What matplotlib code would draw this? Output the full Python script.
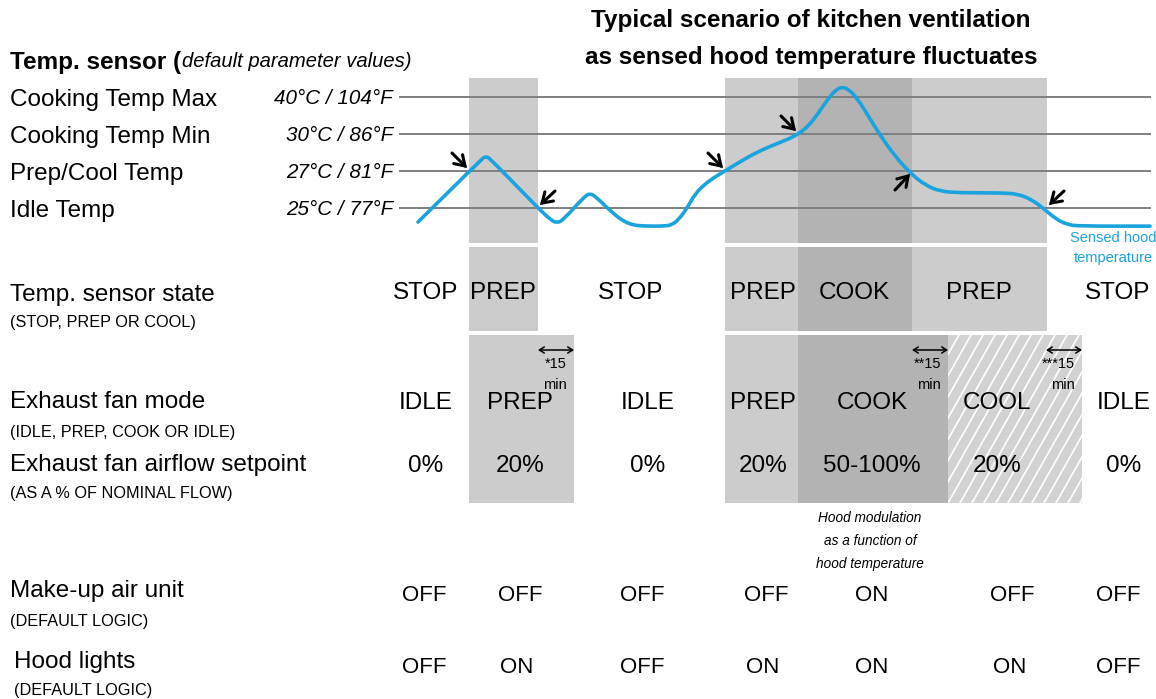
import numpy as np
import matplotlib
matplotlib.use('Agg')
import matplotlib.pyplot as plt
from matplotlib.patches import Rectangle, PathPatch
from matplotlib.path import Path

plt.rcParams['font.family'] = ['Liberation Sans', 'DejaVu Sans']

# ---- data -------------------------------------------------------------
title = ['Typical scenario of kitchen ventilation',
         'as sensed hood temperature fluctuates']

# temperature setpoints, drawn as equally spaced levels 0..3
level_names = ['Idle Temp', 'Prep/Cool Temp', 'Cooking Temp Min', 'Cooking Temp Max']
level_vals = ['25°C / 77°F', '27°C / 81°F', '30°C / 86°F', '40°C / 104°F']

# sensed hood temperature (time in diagram units, value in setpoint levels)
t_curve = [418, 480, 486, 492, 538, 551, 557, 563, 584, 590, 596, 612, 622, 632,
           645, 665, 672, 678, 686, 695, 705, 715, 725, 740, 757, 775, 790, 798,
           808, 818, 828, 836, 842, 848, 857, 868, 880, 895, 910, 925, 940, 960,
           1000, 1018, 1032, 1043, 1055, 1067, 1080, 1150]
temp_curve = [-0.38, 1.28, 1.41, 1.28, 0.0, -0.33, -0.40, -0.33, 0.30, 0.40,
              0.30, -0.12, -0.33, -0.46, -0.49, -0.49, -0.45, -0.33, -0.05, 0.38,
              0.65, 0.84, 1.0, 1.25, 1.51, 1.72, 1.88, 2.0, 2.2, 2.55, 2.95, 3.2,
              3.27, 3.22, 2.97, 2.5, 1.97, 1.4, 0.95, 0.62, 0.45, 0.41, 0.41, 0.38,
              0.22, 0.0, -0.28, -0.45, -0.49, -0.49]

# threshold crossings marked with arrows: time, level, direction
cross_t = [469, 538, 725, 798, 910, 1047]
cross_lvl = [1, 0, 1, 2, 1, 0]
cross_dir = ['se', 'sw', 'se', 'se', 'ne', 'sw']

# sensor state bands (start, end, shade)
state_start = [469, 725, 798, 912]
state_end = [538, 798, 912, 1047]
state_shade = ['light', 'light', 'dark', 'light']

# exhaust fan mode bands (delayed by 15 min)
fan_start = [469, 725, 798, 948]
fan_end = [574, 798, 948, 1082]
fan_shade = ['light', 'light', 'dark', 'hatch']
delay_end = [574, 948, 1082]
delay_lbl = ['*15', '**15', '***15']

state_x = [426, 503, 631, 763, 854, 979, 1118]
state_lbl = ['STOP', 'PREP', 'STOP', 'PREP', 'COOK', 'PREP', 'STOP']
fan_x = [426, 520, 648, 763, 872, 997, 1124]
fan_mode = ['IDLE', 'PREP', 'IDLE', 'PREP', 'COOK', 'COOL', 'IDLE']
airflow = ['0%', '20%', '0%', '20%', '50-100%', '20%', '0%']
mua_x = [424, 520, 642, 766, 872, 1012, 1118]
mua = ['OFF', 'OFF', 'OFF', 'OFF', 'ON', 'OFF', 'OFF']
light_x = [424, 517, 642, 763, 872, 1010, 1118]
lights = ['OFF', 'ON', 'OFF', 'ON', 'ON', 'ON', 'OFF']

row_labels = [('Temp. sensor state', '(STOP, PREP OR COOL)', 292, 321, 10),
              ('Exhaust fan mode', '(IDLE, PREP, COOK OR IDLE)', 399, 431, 10),
              ('Exhaust fan airflow setpoint', '(AS A % OF NOMINAL FLOW)', 462, 492, 10),
              ('Make-up air unit', '(DEFAULT LOGIC)', 588, 620, 10),
              ('Hood lights', '(DEFAULT LOGIC)', 659, 689, 14)]

# ---- drawing ----------------------------------------------------------
LIGHT = '#cccccc'
DARK = '#b3b3b3'
BLUE = '#1aa3dc'
PX = 100 / 72
BIG = 17.5

fig = plt.figure(figsize=(11.56, 6.99), dpi=100)
ax = fig.add_axes([0, 0, 1, 1])
ax.set_xlim(0, 1156)
ax.set_ylim(699, 0)
ax.axis('off')


def lvl_y(v):
    return 208 - 37 * np.asarray(v, dtype=float)


def txt(x, yc, s, size, ha='left', **kw):
    return ax.text(x, yc + 0.36 * size * PX, s, fontsize=size, ha=ha,
                   va='baseline', **kw)


shade_col = {'light': LIGHT, 'dark': DARK, 'hatch': '#d2d2d2'}

# bands
for a, b, s in zip(state_start, state_end, state_shade):
    ax.add_patch(Rectangle((a, 78), b - a, 165, color=shade_col[s], lw=0, zorder=1))
    ax.add_patch(Rectangle((a, 247), b - a, 84, color=shade_col[s], lw=0, zorder=1))
for a, b, s in zip(fan_start, fan_end, fan_shade):
    r = Rectangle((a, 335), b - a, 168, color=shade_col[s], lw=0, zorder=1)
    ax.add_patch(r)
    if s == 'hatch':
        for c in np.arange(a - 120, b + 10, 12):
            ln, = ax.plot([c, c + 95], [503, 335], color='white', lw=1.2, zorder=2)
            ln.set_clip_path(r)

# setpoint lines and labels
for i, (nm, vl) in enumerate(zip(level_names, level_vals)):
    y = lvl_y(i)
    ax.plot([400, 1150], [y, y], color='#7f7f7f', lw=1.4, zorder=3)
    txt(10, y, nm, BIG)
    txt(393, y, vl, 14.9, ha='right', style='italic')

# sensed temperature curve, rendered as a smooth quadratic path
pts = np.column_stack([t_curve, lvl_y(temp_curve)])
verts = [pts[0]]
codes = [Path.MOVETO]
for i in range(1, len(pts) - 1):
    verts += [pts[i], (pts[i] + pts[i + 1]) / 2]
    codes += [Path.CURVE3, Path.CURVE3]
verts.append(pts[-1])
codes.append(Path.LINETO)
ax.add_patch(PathPatch(Path(verts, codes), fill=False, edgecolor=BLUE, lw=2.6,
                       capstyle='round', joinstyle='round', zorder=5))
txt(1113, 237, 'Sensed hood', 10.5, ha='center', color=BLUE)
txt(1113, 257, 'temperature', 10.5, ha='center', color=BLUE)

# crossing arrows
offs = {'se': ((-17, -18), (-2, -3)), 'sw': ((17, -17), (2, -3)),
        'ne': ((-15, 19), (0, 3))}
for t, l, d in zip(cross_t, cross_lvl, cross_dir):
    y = lvl_y(l)
    (sx, sy), (ex, ey) = offs[d]
    ax.annotate('', xy=(t + ex, y + ey), xytext=(t + sx, y + sy),
                arrowprops=dict(arrowstyle='->,head_length=0.7,head_width=0.45',
                                color='black', lw=2.2, shrinkA=0, shrinkB=0,
                                joinstyle='miter'),
                zorder=6)

# title and header
for i, line in enumerate(title):
    txt(811, 18 + 37 * i, line, 17.5, ha='center', fontweight='bold')
h = txt(10, 60, 'Temp. sensor (', BIG, fontweight='bold')
fig.canvas.draw()
x1 = h.get_window_extent(fig.canvas.get_renderer()).x1
txt(x1 + 1, 60, 'default parameter values)', 14.6, style='italic')

# row labels
for big, small, yb, ys, x in row_labels:
    txt(x, yb, big, BIG)
    txt(x, ys, small, 11.7)

# row values
for x, s in zip(state_x, state_lbl):
    txt(x, 290, s, BIG, ha='center')
for x, s, f in zip(fan_x, fan_mode, airflow):
    txt(x, 400, s, BIG, ha='center')
    txt(x, 463, f, BIG, ha='center')
for x, s in zip(mua_x, mua):
    txt(x, 593, s, 16, ha='center')
for x, s in zip(light_x, lights):
    txt(x, 665, s, 16, ha='center')

# 15 min delay markers
for e, s in zip(delay_end, delay_lbl):
    ax.annotate('', xy=(e - 36, 350), xytext=(e, 350),
                arrowprops=dict(arrowstyle='<->,head_length=0.35,head_width=0.22',
                                color='black', lw=1.1, shrinkA=0, shrinkB=0))
    txt(e - 7, 363, s, 10.5, ha='right')
    txt(e - 7, 384, 'min', 10.5, ha='right')

# hood modulation note
for i, s in enumerate(['Hood modulation', 'as a function of', 'hood temperature']):
    txt(870, 517 + 23 * i, s, 9.8, ha='center', style='italic')

fig.savefig('out.png', dpi=100)
